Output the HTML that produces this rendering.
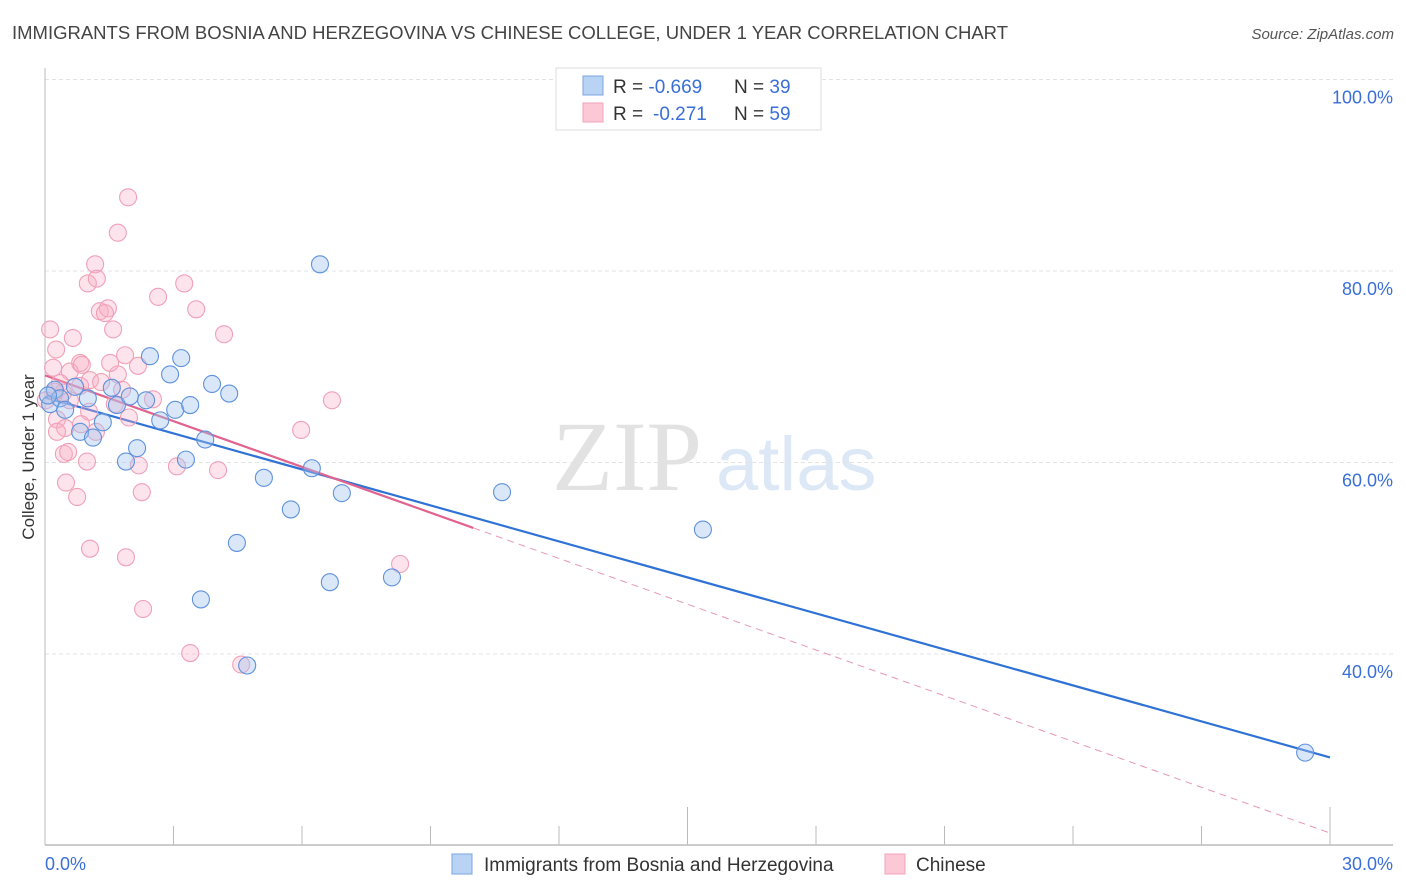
<!DOCTYPE html>
<html><head><meta charset="utf-8"><style>
body{margin:0;background:#fff;}
svg{display:block;font-family:"Liberation Sans",sans-serif;}
</style></head><body>
<svg id="chart" width="1406" height="892" viewBox="0 0 1406 892">
<text x="12" y="39" font-size="18" fill="#444" textLength="996" lengthAdjust="spacingAndGlyphs">IMMIGRANTS FROM BOSNIA AND HERZEGOVINA VS CHINESE COLLEGE, UNDER 1 YEAR CORRELATION CHART</text>
<text x="1394" y="39" font-size="15" fill="#555" font-style="italic" text-anchor="end">Source: ZipAtlas.com</text>
<g>
<text x="552" y="490" font-size="100" font-family="Liberation Serif,serif" fill="#e2e2e2">ZIP</text>
<text x="716" y="490" font-size="76" fill="#dce8f6">atlas</text>
</g>
<g id="grid"></g>
<g id="axes"></g>
<g id="lines"></g>
<g id="pts"></g>
<text transform="translate(34,457) rotate(-90)" font-size="17" fill="#333" text-anchor="middle">College, Under 1 year</text>
<g>
<rect x="556" y="68" width="265" height="62" fill="#fff" stroke="#ddd"/>
<rect x="583" y="76" width="20" height="19" fill="#b9d3f5" stroke="#7aa6e0"/>
<rect x="583" y="103" width="20" height="19" fill="#fcc8d6" stroke="#f0a3b9"/>
<text x="613" y="93" font-size="19" fill="#333">R = <tspan fill="#3a6fd8">-0.669</tspan><tspan x="734">N = </tspan><tspan fill="#3a6fd8">39</tspan></text>
<text x="613" y="120" font-size="19" fill="#333">R = <tspan x="653" fill="#3a6fd8">-0.271</tspan><tspan x="734">N = </tspan><tspan fill="#3a6fd8">59</tspan></text>
</g>
<g>
<rect x="452" y="854" width="20" height="20" fill="#b9d3f5" stroke="#7aa6e0"/>
<text x="484" y="871" font-size="19" fill="#333">Immigrants from Bosnia and Herzegovina</text>
<rect x="885" y="854" width="20" height="20" fill="#fcc8d6" stroke="#f0a3b9"/>
<text x="916" y="871" font-size="19" fill="#333">Chinese</text>
</g>
</svg>
<script>
const xTickLabels=["0.0%","30.0%"];
const yTicks=[40,60,80,100];
const yTickLabels=["40.0%","60.0%","80.0%","100.0%"];
const blueX=[0.12,0.23,0.35,0.47,0.70,0.82,1.00,1.12,1.35,1.56,1.68,1.89,1.98,2.15,2.36,2.45,2.69,2.92,3.04,3.18,3.29,3.39,3.74,3.90,4.30,4.48,4.72,5.11,5.74,6.23,6.42,6.65,6.93,8.10,10.67,15.36,29.42,3.64,0.07];
const blueY=[66.1,67.6,66.7,65.5,67.9,63.2,66.7,62.6,64.2,67.8,66.0,60.1,66.9,61.5,66.5,71.1,64.4,69.2,65.5,70.9,60.3,66.0,62.4,68.2,67.2,51.6,38.8,58.4,55.1,59.4,80.7,47.5,56.8,48.0,56.9,53.0,29.7,45.7,67.0];
const pinkX=[1.94,1.70,1.17,1.00,1.21,3.25,2.64,1.28,1.47,1.40,3.53,0.12,1.59,4.18,0.65,0.26,1.87,0.82,2.17,0.19,0.58,1.70,1.05,1.31,1.80,0.42,0.82,2.52,1.63,1.03,0.28,1.96,0.47,0.84,1.19,0.44,0.28,0.54,0.98,2.19,3.08,4.04,0.49,0.75,2.26,5.98,6.70,1.05,1.89,2.29,3.39,4.58,8.29,0.23,0.02,0.35,1.52,0.86,0.58];
const pinkY=[87.7,84.0,80.7,78.7,79.2,78.7,77.3,75.8,76.1,75.6,76.0,73.9,73.9,73.4,73.0,71.8,71.2,70.4,70.1,69.9,69.5,69.2,68.6,68.4,67.6,67.3,68.0,66.6,66.1,65.3,64.5,64.7,63.6,64.0,63.2,60.9,63.2,61.1,60.1,59.7,59.6,59.2,57.9,56.4,56.9,63.4,66.5,51.0,50.1,44.7,40.1,38.9,49.4,67.4,66.5,68.3,70.4,70.2,66.5];
const blueTrend=[66.8,29.2];
const pinkTrend=[69.1,21.3];
const pinkSolidEnd=10.0;

const X0=45,X1=1330,Y100=79.5,PPY=9.575;
const sx=v=>X0+(X1-X0)*v/30;
const sy=v=>Y100+(100-v)*PPY;
const NS="http://www.w3.org/2000/svg";
function mk(tag,attrs,parent){const e=document.createElementNS(NS,tag);for(const k in attrs)e.setAttribute(k,attrs[k]);parent.appendChild(e);return e;}
const grid=document.getElementById('grid'),axes=document.getElementById('axes');
yTicks.forEach((t,i)=>{
  const l=mk('line',{x1:X0,x2:1393,y1:sy(t),y2:sy(t),stroke:'#e3e3e3','stroke-dasharray':'4,3'},grid);
  
  
  const tx=mk('text',{x:1393,y:sy(t)+24,'font-size':18,fill:'#3a6fd8','text-anchor':'end'},axes);
  tx.textContent=yTickLabels[i];
  
  
});
const yl=mk('line',{x1:X0,x2:X0,y1:68,y2:845,stroke:'#bbb'},axes);


const xl=mk('line',{x1:X0,x2:1393,y1:845,y2:845,stroke:'#bbb','stroke-width':1.5},axes);


for(let i=0;i<=10;i++){
  const v=i*3,major=(i===5||i===10);
  const tk=mk('line',{x1:sx(v),x2:sx(v),y1:major?807:826,y2:845,stroke:'#bbb'},axes);
  
  
}
[[0,'start',45],[30,'end',1393]].forEach((d,i)=>{
  const t=mk('text',{x:d[2],y:870,'font-size':18,fill:'#3a6fd8','text-anchor':d[1]},axes);
  t.textContent=xTickLabels[i];
  
  
});
const pts=document.getElementById('pts');
pinkX.forEach((x,i)=>{
  const c=mk('circle',{cx:sx(x),cy:sy(pinkY[i]),r:8.5,fill:'rgba(248,176,198,0.35)',stroke:'#f0a0b8','stroke-width':1.1},pts);
  
  
});
blueX.forEach((x,i)=>{
  const c=mk('circle',{cx:sx(x),cy:sy(blueY[i]),r:8.5,fill:'rgba(160,196,240,0.4)',stroke:'#5f92dc','stroke-width':1.1},pts);
  
  
});
const lines=document.getElementById('lines');
const pAt=x=>pinkTrend[0]+(pinkTrend[1]-pinkTrend[0])*x/30;
const bl=mk('line',{x1:sx(0),y1:sy(blueTrend[0]),x2:sx(30),y2:sy(blueTrend[1]),stroke:'#2f72d6','stroke-width':2.2},lines);


const pd=mk('line',{x1:sx(pinkSolidEnd),y1:sy(pAt(pinkSolidEnd)),x2:sx(30),y2:sy(pinkTrend[1]),stroke:'#e898b0','stroke-width':1,'stroke-dasharray':'7,5'},lines);


const ps=mk('line',{x1:sx(0),y1:sy(pinkTrend[0]),x2:sx(pinkSolidEnd),y2:sy(pAt(pinkSolidEnd)),stroke:'#e0648e','stroke-width':2.2},lines);


</script>
</body></html>
